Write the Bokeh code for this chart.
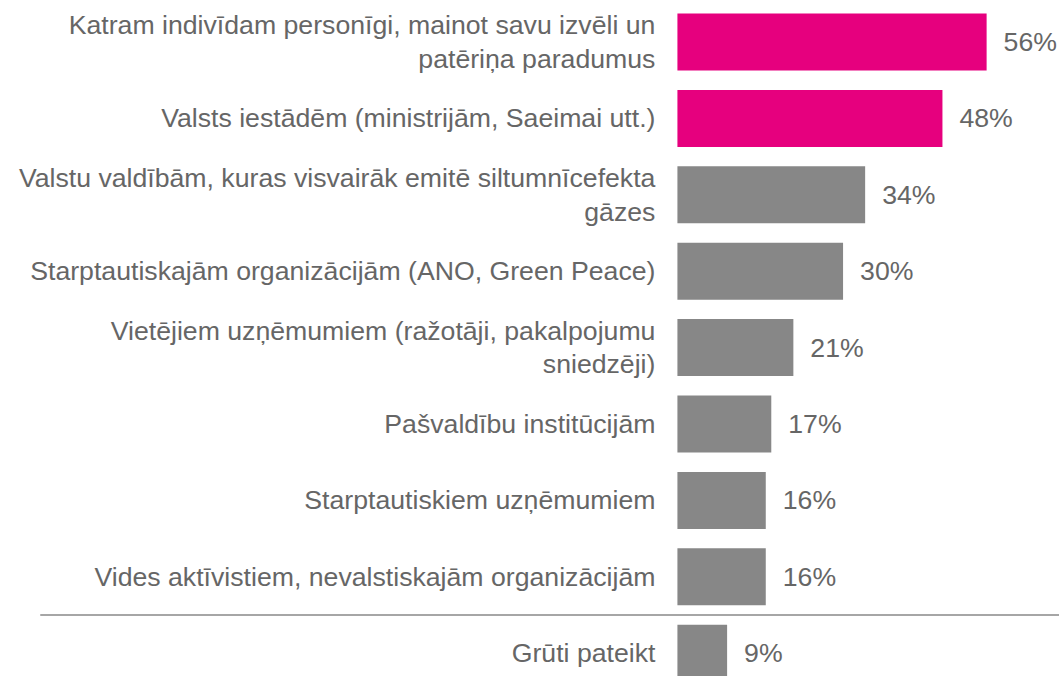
from bokeh.plotting import figure
from bokeh.models import ColumnDataSource, Range1d
from bokeh.core.properties import value
from bokeh.embed import file_html
from bokeh.resources import INLINE

categories = [
    "Katram indivīdam personīgi, mainot savu izvēli un\npatēriņa paradumus",
    "Valsts iestādēm (ministrijām, Saeimai utt.)",
    "Valstu valdībām, kuras visvairāk emitē siltumnīcefekta\ngāzes",
    "Starptautiskajām organizācijām (ANO, Green Peace)",
    "Vietējiem uzņēmumiem (ražotāji, pakalpojumu\nsniedzēji)",
    "Pašvaldību institūcijām",
    "Starptautiskiem uzņēmumiem",
    "Vides aktīvistiem, nevalstiskajām organizācijām",
    "Grūti pateikt",
]
values = [56, 48, 34, 30, 21, 17, 16, 16, 9]
highlight = [True, True, False, False, False, False, False, False, False]
value_labels = [f"{v}%" for v in values]

MAGENTA = "#E6007E"
GRAY = "#878787"
TEXT = "#666666"

idx = list(range(len(categories)))
src = ColumnDataSource(dict(
    y=idx,
    v=values,
    cat=categories,
    lab=value_labels,
    color=[MAGENTA if h else GRAY for h in highlight],
))

W, H = 1059, 676
p = figure(width=W, height=H, output_backend="svg", toolbar_location=None,
           x_range=Range1d(-122.6, 69.2), y_range=Range1d(8.305, -0.543),
           min_border=0, outline_line_color=None)
p.axis.visible = False
p.grid.visible = False
p.background_fill_color = "white"
p.border_fill_color = "white"

p.hbar(y="y", left=0, right="v", height=0.746, fill_color="color",
       line_color=None, source=src)

p.text(x=0, y="y", text="cat", source=src, x_offset=-22,
       text_align="right", text_baseline="middle",
       text_font=value("Liberation Sans"), text_font_size="26.67px",
       text_color=TEXT, text_line_height=1.12)

p.text(x="v", y="y", text="lab", source=src, x_offset=17,
       text_align="left", text_baseline="middle",
       text_font=value("Liberation Sans"), text_font_size="26.67px",
       text_color=TEXT)

sep_y = len(categories) - 1.5
p.segment(x0=[-115.4], x1=[72], y0=[sep_y], y1=[sep_y],
          line_color="#A6A6A6", line_width=2)

open("out.html", "w").write(file_html(p, INLINE))
